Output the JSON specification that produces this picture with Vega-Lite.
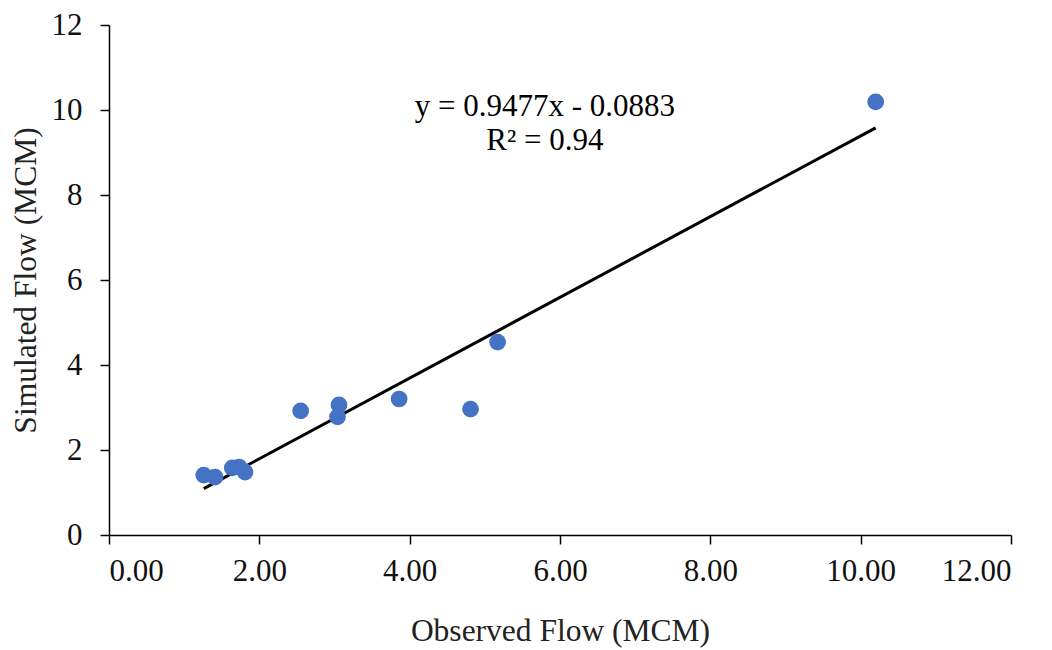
{
  "$schema": "https://vega.github.io/schema/vega-lite/v6.json",
  "width": 902,
  "height": 510,
  "autosize": "none",
  "padding": {"left": 109, "top": 25, "right": 41, "bottom": 115},
  "background": "white",
  "config": {
    "view": {"stroke": null},
    "font": "Liberation Serif",
    "axis": {
      "labelFont": "Liberation Serif",
      "titleFont": "Liberation Serif",
      "labelFontSize": 31,
      "titleFontSize": 31.5,
      "titleFontWeight": "normal",
      "labelColor": "#111111",
      "titleColor": "#222222",
      "domainColor": "#000000",
      "tickColor": "#000000",
      "domainWidth": 1.5,
      "tickWidth": 1.5,
      "tickSize": 9,
      "grid": false
    }
  },
  "datasets": {
    "points": [
      {"observed": 1.26, "simulated": 1.41},
      {"observed": 1.41, "simulated": 1.36},
      {"observed": 1.64, "simulated": 1.58},
      {"observed": 1.73, "simulated": 1.60},
      {"observed": 1.81, "simulated": 1.48},
      {"observed": 2.55, "simulated": 2.92},
      {"observed": 3.06, "simulated": 3.06},
      {"observed": 3.04, "simulated": 2.78},
      {"observed": 3.86, "simulated": 3.20},
      {"observed": 4.81, "simulated": 2.96},
      {"observed": 5.17, "simulated": 4.54},
      {"observed": 10.20, "simulated": 10.19}
    ],
    "trend": [
      {"observed": 1.26, "simulated": 1.09},
      {"observed": 10.20, "simulated": 9.58}
    ],
    "labels": [
      {"observed": 5.80, "simulated": 10.08, "text": "y = 0.9477x  - 0.0883"},
      {"observed": 5.80, "simulated": 9.26, "text": "R² = 0.94"}
    ]
  },
  "layer": [
    {
      "data": {"name": "trend"},
      "mark": {"type": "line", "color": "#000000", "strokeWidth": 3},
      "encoding": {
        "x": {"field": "observed", "type": "quantitative"},
        "y": {"field": "simulated", "type": "quantitative"}
      }
    },
    {
      "data": {"name": "points"},
      "mark": {"type": "circle", "color": "#4472C4", "opacity": 1, "size": 280},
      "encoding": {
        "x": {
          "field": "observed",
          "type": "quantitative",
          "scale": {"domain": [0, 12], "nice": false},
          "axis": {"values": [0, 2, 4, 6, 8, 10, 12], "format": ".2f", "title": "Observed Flow (MCM)", "labelPadding": 12, "titlePadding": 29}
        },
        "y": {
          "field": "simulated",
          "type": "quantitative",
          "scale": {"domain": [0, 12], "nice": false},
          "axis": {"values": [0, 2, 4, 6, 8, 10, 12], "format": "d", "title": "Simulated Flow (MCM)", "labelPadding": 18, "titlePadding": 9}
        }
      }
    },
    {
      "data": {"name": "labels"},
      "mark": {"type": "text", "font": "Liberation Serif", "fontSize": 31, "color": "#000000", "align": "center", "baseline": "middle"},
      "encoding": {
        "x": {"field": "observed", "type": "quantitative"},
        "y": {"field": "simulated", "type": "quantitative"},
        "text": {"field": "text"}
      }
    }
  ]
}
